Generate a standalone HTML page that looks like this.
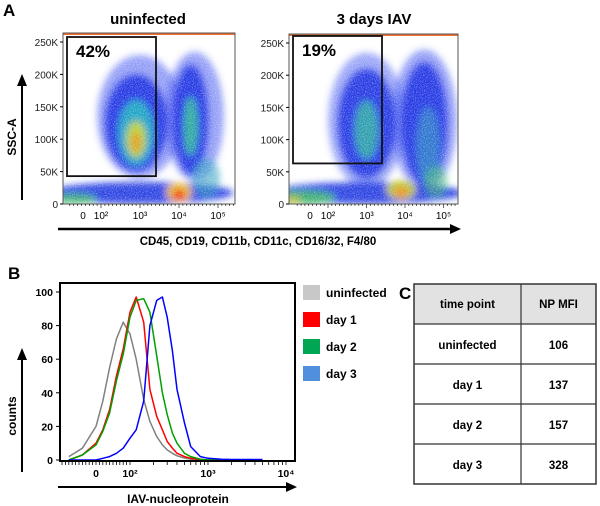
<!DOCTYPE html>
<html><head><meta charset="utf-8"><style>
body{margin:0;background:#fff;}
svg{display:block;font-family:"Liberation Sans",Arial,sans-serif;}
</style></head><body>
<svg id="fig" width="600" height="506" viewBox="0 0 600 506">
<defs>
<filter id="blur4" x="-50%" y="-50%" width="200%" height="200%"><feGaussianBlur stdDeviation="3.5"/></filter>
<filter id="speckle" x="0" y="0" width="100%" height="100%">
<feTurbulence type="fractalNoise" baseFrequency="0.9" numOctaves="1" seed="3" result="n"/>
<feColorMatrix in="n" type="matrix" values="0 0 0 0 1  0 0 0 0 1  0 0 0 0 1  0 0 0 -2.2 1.25"/>
</filter>
<clipPath id="clipL"><rect x="63" y="33" width="172" height="171"/></clipPath>
<clipPath id="clipR"><rect x="289" y="34" width="169" height="170"/></clipPath>
<clipPath id="clipB"><rect x="60" y="283" width="235" height="178"/></clipPath>
</defs>
<text x="3" y="16" font-size="17" font-weight="bold">A</text>
<text x="148" y="24" font-size="15" font-weight="bold" text-anchor="middle">uninfected</text>
<text x="374" y="24" font-size="15" font-weight="bold" text-anchor="middle">3 days IAV</text>
<g id="scatL"></g>
<g id="scatR"></g>
<line x1="58" y1="229" x2="452" y2="229" stroke="#000" stroke-width="2.5"/>
<polygon points="461,229 450,224 450,234" fill="#000"/>
<text x="258" y="245" font-size="11.5" font-weight="bold" text-anchor="middle">CD45, CD19, CD11b, CD11c, CD16/32, F4/80</text>
<line x1="22" y1="200" x2="22" y2="84" stroke="#000" stroke-width="2"/>
<polygon points="22,74 17,86 27,86" fill="#000"/>
<text transform="translate(16,137) rotate(-90)" font-size="12" font-weight="bold" text-anchor="middle">SSC-A</text>

<text x="8" y="279" font-size="17" font-weight="bold">B</text>
<g id="hist"></g>
<line x1="58" y1="487" x2="288" y2="487" stroke="#000" stroke-width="2"/>
<polygon points="297,487 286,482 286,492" fill="#000"/>
<text x="178" y="503" font-size="12" font-weight="bold" text-anchor="middle">IAV-nucleoprotein</text>
<line x1="22" y1="472" x2="22" y2="358" stroke="#000" stroke-width="2"/>
<polygon points="22,348 17,360 27,360" fill="#000"/>
<text transform="translate(16,416) rotate(-90)" font-size="12" font-weight="bold" text-anchor="middle">counts</text>
<g id="legend"></g>

<text x="399" y="299" font-size="17" font-weight="bold">C</text>
<g id="table"></g>
</svg>
<script>
const NS="http://www.w3.org/2000/svg";
function mk(tag,attrs,parent){const e=document.createElementNS(NS,tag);for(const k in attrs)e.setAttribute(k,attrs[k]);parent.appendChild(e);return e;}

/* ---------- Panel B histogram data ---------- */
const histChannels=[-80,-40,0,20,40,60,80,100,120,150,180,220,260,300,350,400,500,600,800,1000,1500,2000,5000];
const histUninfected=[2,7,20,35,55,72,82,75,60,36,23,14,9,6,4,2.5,1.2,0.5,0,0,0,0,0];
const histDay1=[0,3,10,18,30,50,66,88,97,82,42,26,18,11,7,4,2,1,0.3,0,0,0,0];
const histDay2=[0,3,9,17,28,47,63,85,95,96,88,62,40,27,16,10,4,2,0.5,0,0,0,0];
const histDay3=[0,0,0,1,2,4,7,13,18,35,80,95,97,85,65,42,22,8,2,1,0.5,0.3,0.3];
const histYTicks=[0,20,40,60,80,100];
const histXTickVals=[0,100,1000,10000];
const histXTickLabels=["0","10²","10³","10⁴"];
const seriesNames=["uninfected","day 1","day 2","day 3"];
const seriesLine=["#808080","#ff0000","#00a000","#0000ff"];
const seriesSwatch=["#c8c8c8","#ff0000","#00a651","#4f8fdb"];

/* ---------- Panel C table data ---------- */
const tableHeaders=["time point","NP MFI"];
const tableRows=["uninfected","day 1","day 2","day 3"];
const tableMFI=[106,137,157,328];

/* ---------- Panel A scatter data ---------- */
const scatYTicks=[0,50,100,150,200,250];
const scatYLabels=["0","50K","100K","150K","200K","250K"];
const scatXDecades=[2,3,4,5];
// clusters: [decade, SSC(K), spreadDecades, spreadK, color, opacity]
const clustersUninf=[
 [3.0,135,1.1,95,"#3a50f0",0.55],[4.4,135,0.75,100,"#3a50f0",0.55],
 [2.9,125,0.8,75,"#1828e0",0.85],[4.3,130,0.45,85,"#1828e0",0.85],[3.0,17,2.4,17,"#1830e0",0.9],
 [2.9,110,0.45,50,"#20b8c0",0.85],[4.3,120,0.18,45,"#30c890",0.8],[2.9,100,0.25,28,"#c8d820",0.9],
 [2.9,95,0.12,16,"#f08020",0.75],[4.0,18,0.32,15,"#f0c020",0.95],[4.0,14,0.17,8,"#f02010",1],
 [1.3,8,0.6,8,"#40c060",0.8],[4.7,40,0.35,30,"#30a0c0",0.6]];
const clustersIAV=[
 [3.0,130,1.0,105,"#3a50f0",0.5],[4.5,130,0.85,110,"#3a50f0",0.55],
 [3.0,125,0.75,85,"#1828e0",0.85],[4.5,125,0.6,95,"#1828e0",0.85],[3.0,17,2.5,17,"#1830e0",0.9],
 [3.0,115,0.3,45,"#30b8a0",0.8],[4.6,90,0.3,60,"#30a8c0",0.55],[1.3,10,0.9,11,"#40c060",0.85],
 [1.0,6,0.3,6,"#e0c020",0.75],[3.9,22,0.38,15,"#c8d020",0.9],[3.9,18,0.17,9,"#f09020",0.95],[4.8,35,0.3,25,"#40c070",0.55]];

/* ---------- scatter plots ---------- */
function drawScatter(gid,box,xd,clusters,gate,pct,clip,name){
  const g=document.getElementById(gid);
  const xS=d=>xd.x0+(d-2)*xd.k;
  const yS=v=>box.y+box.h-v*(box.h-9)/250;
  const pg=mk("g",{"clip-path":"url(#"+clip+")"},g);
  mk("rect",{x:box.x,y:box.y,width:box.w,height:box.h,fill:"#fff"},pg);
  const cg=mk("g",{filter:"url(#blur4)"},pg);
  clusters.forEach((c,i)=>{
    const el=mk("ellipse",{cx:xS(c[0]),cy:yS(c[1]),rx:c[2]*xd.k,ry:c[3]*(box.h-9)/250,fill:c[4],opacity:c[5]},cg);
    
    
  });
  mk("rect",{x:box.x,y:box.y,width:box.w,height:box.h,filter:"url(#speckle)",opacity:0.5},pg);
  mk("rect",{x:box.x,y:box.y,width:box.w,height:2,fill:"#f07030"},pg);
  const fr=mk("rect",{x:box.x,y:box.y,width:box.w,height:box.h,fill:"none",stroke:"#555","stroke-width":1},g);
  
  
  scatYTicks.forEach((v,i)=>{
    const y=yS(v);
    mk("line",{x1:box.x-3,y1:y,x2:box.x,y2:y,stroke:"#000"},g);
    const t=mk("text",{x:box.x-5,y:y+4,"font-size":10,"text-anchor":"end",fill:"#222"},g);
    t.textContent=scatYLabels[i];
    
    
  });
  const by=box.y+box.h;
  for(let d=1.2;d<5.5;d+=0.1){const x=xS(d);if(x<box.x||x>box.x+box.w)continue;mk("line",{x1:x,y1:by,x2:x,y2:by+(Math.abs(d-Math.round(d))<0.05?4:2),stroke:"#000","stroke-width":0.6},g);}
  const z=mk("text",{x:xS(2)-18,y:by+15,"font-size":10,"text-anchor":"middle"},g);z.textContent="0";
  
  
  scatXDecades.forEach(d=>{
    const t=mk("text",{x:xS(d),y:by+15,"font-size":10,"text-anchor":"middle"},g);
    t.textContent="10"+["","","²","³","⁴","⁵"][d];
    
    
  });
  const gr=mk("rect",{x:gate[0],y:gate[1],width:gate[2]-gate[0],height:yS(gate[3])-gate[1],fill:"none",stroke:"#111","stroke-width":1.8},g);
  
  
  const pt=mk("text",{x:gate[0]+9,y:gate[1]+20,"font-size":17,"font-weight":"bold"},g);
  pt.textContent=pct;
  
  
}
drawScatter("scatL",{x:63,y:33,w:172,h:171},{x0:101,k:39},clustersUninf,[67,37,156,43],"42%","clipL","uninfected");
drawScatter("scatR",{x:289,y:34,w:169,h:170},{x0:328,k:38.5},clustersIAV,[293,36,382,63],"19%","clipR","iav");

/* ---------- histogram ---------- */
(function(){
  const g=document.getElementById("hist");
  const xB=v=>v<=100?96+v*0.34:130+78*Math.log10(v/100);
  const yB=c=>460-c*1.68;
  const lg=mk("g",{"clip-path":"url(#clipB)"},g);
  const all=[histUninfected,histDay1,histDay2,histDay3];
  all.forEach((s,si)=>{
    const d=histChannels.map((v,i)=>(i?"L":"M")+xB(v).toFixed(1)+","+yB(s[i]).toFixed(1)).join(" ");
    const p=mk("path",{d:d,fill:"none",stroke:seriesLine[si],"stroke-width":1.5,"stroke-linejoin":"round"},lg);
    
    
  });
  const fr=mk("rect",{x:60,y:283,width:235,height:178,fill:"none",stroke:"#000","stroke-width":2},g);
  
  
  histYTicks.forEach(v=>{
    const y=yB(v);
    mk("line",{x1:56,y1:y,x2:60,y2:y,stroke:"#000"},g);
    const t=mk("text",{x:53,y:y+4,"font-size":10.5,"font-weight":"bold","text-anchor":"end"},g);
    t.textContent=v;
    
    
  });
  for(let v=-100;v<=10000;){const x=xB(v);mk("line",{x1:x,y1:461,x2:x,y2:465,stroke:"#000","stroke-width":0.8},g);v+= v<100?10:(v<1000?100:1000);}
  histXTickVals.forEach((v,i)=>{
    const t=mk("text",{x:xB(v),y:477,"font-size":10.5,"font-weight":"bold","text-anchor":"middle"},g);
    t.textContent=histXTickLabels[i];
    
    
  });
  const lgd=document.getElementById("legend");
  seriesNames.forEach((n,i)=>{
    const y=285+i*27;
    const r=mk("rect",{x:303,y:y,width:17,height:15,fill:seriesSwatch[i]},lgd);
    
    
    const t=mk("text",{x:326,y:y+12,"font-size":12,"font-weight":"bold"},lgd);
    t.textContent=n;
    
    
  });
})();

/* ---------- table ---------- */
(function(){
  const g=document.getElementById("table");
  const x0=414,x1=521,x2=596,y0=284,rh=40;
  const hb=mk("rect",{x:x0,y:y0,width:x2-x0,height:rh,fill:"#e2e2e2"},g);
  
  
  tableHeaders.forEach((h,i)=>{
    const t=mk("text",{x:i?(x1+x2)/2:(x0+x1)/2,y:y0+24,"font-size":11.5,"font-weight":"bold","text-anchor":"middle"},g);
    t.textContent=h;
    
    
  });
  tableRows.forEach((r,i)=>{
    const y=y0+rh*(i+1);
    mk("line",{x1:x0,y1:y,x2:x2,y2:y,stroke:"#333","stroke-width":1.2},g);
    const a=mk("text",{x:(x0+x1)/2,y:y+25,"font-size":11.5,"font-weight":"bold","text-anchor":"middle"},g);
    a.textContent=r;
    
    
    const b=mk("text",{x:(x1+x2)/2,y:y+25,"font-size":11.5,"font-weight":"bold","text-anchor":"middle"},g);
    b.textContent=tableMFI[i];
    
    
  });
  const yEnd=y0+rh*(tableRows.length+1);
  mk("line",{x1:x1,y1:y0,x2:x1,y2:yEnd,stroke:"#333","stroke-width":1.2},g);
  mk("rect",{x:x0,y:y0,width:x2-x0,height:yEnd-y0,fill:"none",stroke:"#333","stroke-width":1.5},g);
})();
</script>
</body></html>
